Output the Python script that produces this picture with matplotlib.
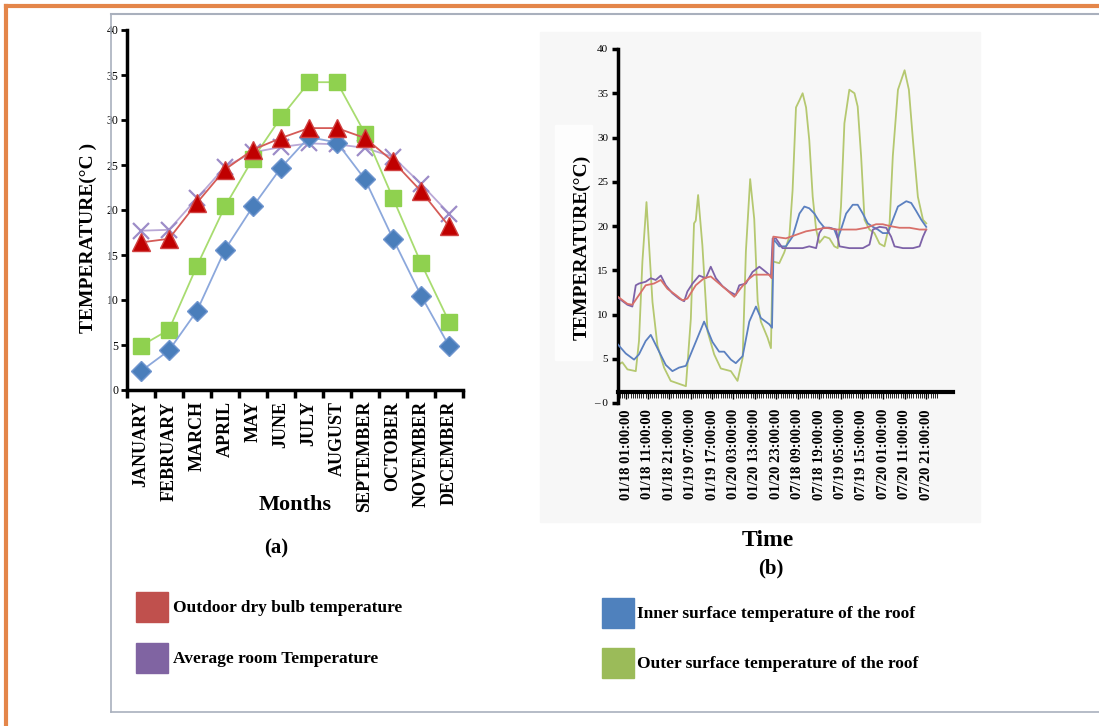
import matplotlib
matplotlib.use("Agg")
import matplotlib.pyplot as plt
from matplotlib.patches import Rectangle
from matplotlib.lines import Line2D

plt.rcParams['font.family'] = ['Liberation Serif', 'DejaVu Serif']

# ---- (a) monthly data ----
months = ['JANUARY', 'FEBRUARY', 'MARCH', 'APRIL', 'MAY', 'JUNE', 'JULY',
          'AUGUST', 'SEPTEMBER', 'OCTOBER', 'NOVEMBER', 'DECEMBER']
inner_month = [2.1, 4.4, 8.8, 15.6, 20.4, 24.7, 28.1, 27.5, 23.4, 16.8, 10.5, 4.9]
outer_month = [4.9, 6.7, 13.8, 20.4, 25.7, 30.3, 34.2, 34.2, 28.5, 21.3, 14.1, 7.6]
outdoor_month = [16.4, 16.8, 20.8, 24.5, 26.7, 28.0, 29.1, 29.1, 28.0, 25.4, 22.1, 18.2]
room_month = [17.7, 17.8, 21.3, 24.8, 26.4, 27.0, 27.4, 27.3, 26.9, 25.9, 22.9, 19.6]

# ---- (b) hourly data (hours counted from 01/18 01:00, July block follows January) ----
time_labels = ['01/18 01:00:00', '01/18 11:00:00', '01/18 21:00:00', '01/19 07:00:00',
               '01/19 17:00:00', '01/20 03:00:00', '01/20 13:00:00', '01/20 23:00:00',
               '07/18 09:00:00', '07/18 19:00:00', '07/19 05:00:00', '07/19 15:00:00',
               '07/20 01:00:00', '07/20 11:00:00', '07/20 21:00:00']

outer_t = [-3.9, -1.9, 0.5, 4.4, 5.9, 7.5, 9.4, 12.2, 14.5, 17.6, 20.7, 25.4, 27.8, 30.1,
           31.6, 32.4, 33.5, 35.5, 37.9, 41.0, 44.1, 48.8, 51.9, 54.3, 55.8, 57.8, 59.7,
           61.3, 62.8, 65.9, 67.5, 68.3, 71.4, 73.7, 76.1, 77.6, 79.2, 80.8, 82.3, 83.9,
           85.4, 87.0, 88.6, 90.1, 92.5, 94.8, 97.1, 98.7, 100.2, 101.8, 104.1, 106.5,
           108.0, 109.6, 111.2, 113.5, 115.8, 118.2, 120.5, 122.9, 124.4, 126.8, 129.9,
           131.9, 133.8, 136.1, 138.5, 140.0]
outer_v = [4.3, 4.6, 3.8, 3.6, 7.0, 16.0, 22.7, 11.4, 6.5, 4.0, 2.5, 2.1, 1.9, 9.5,
           20.3, 20.6, 23.5, 17.8, 8.1, 5.5, 3.9, 3.6, 2.5, 5.1, 17.1, 25.3, 20.8,
           11.5, 9.2, 7.4, 6.2, 16.0, 15.8, 17.0, 18.8, 24.0, 33.4, 34.2, 35.0, 33.4,
           29.7, 23.3, 19.6, 18.1, 18.8, 18.6, 17.7, 17.5, 22.2, 31.6, 35.4, 35.0,
           33.5, 27.9, 20.7, 19.6, 19.2, 18.0, 17.7, 20.3, 27.9, 35.4, 37.6,
           35.4, 29.7, 23.3, 20.7, 20.3]

inner_t = [-3.9, -0.3, 3.6, 5.9, 9.0, 11.4, 15.3, 18.4, 21.5, 24.6, 27.8, 32.4, 36.3,
           40.2, 43.3, 45.7, 48.8, 51.1, 54.3, 57.4, 60.5, 62.8, 66.7, 68.0, 68.8,
           71.4, 74.5, 77.6, 80.8, 83.1, 85.4, 87.8, 90.1, 92.5, 94.8, 97.1, 98.7,
           100.2, 102.6, 105.7, 108.0, 110.4, 112.7, 115.1, 117.4, 119.7, 122.1,
           124.4, 126.8, 130.7, 133.0, 135.3, 137.7, 140.0]
inner_v = [6.6, 5.6, 4.9, 5.5, 7.0, 7.7, 5.8, 4.3, 3.6, 4.0, 4.2, 6.9, 9.2,
           6.9, 5.8, 5.8, 4.9, 4.5, 5.3, 9.2, 10.9, 9.6, 8.9, 8.5, 18.5,
           17.7, 17.7, 18.8, 21.4, 22.2, 22.0, 21.4, 20.5, 19.8, 19.8, 19.6, 18.6,
           19.6, 21.4, 22.4, 22.4, 21.4, 20.3, 19.9, 19.6, 19.2, 19.2,
           20.7, 22.2, 22.8, 22.6, 21.7, 20.7, 19.9]

room_t = [-3.9, 0.5, 2.8, 4.4, 5.9, 9.0, 11.4, 13.7, 16.1, 18.4, 21.5, 24.6, 27.0,
          28.5, 30.9, 34.0, 37.1, 39.4, 41.8, 44.9, 48.0, 51.1, 52.7, 55.8, 58.9,
          62.1, 65.2, 67.5, 68.3, 69.8, 72.9, 82.3, 85.4, 88.6, 90.1, 91.7, 94.8,
          97.9, 99.5, 104.1, 110.4, 113.5, 115.1, 118.2, 121.3, 123.6, 125.2,
          129.1, 133.8, 136.9, 138.5, 140.0]
room_v = [11.9, 11.1, 10.9, 13.3, 13.5, 13.7, 14.1, 13.9, 14.4, 13.3, 12.4, 11.8, 11.5,
          12.6, 13.5, 14.4, 14.1, 15.4, 14.1, 13.2, 12.6, 12.2, 13.3, 13.5, 14.8,
          15.4, 14.8, 14.3, 18.6, 18.6, 17.5, 17.5, 17.7, 17.5, 19.2, 19.8, 19.8,
          19.6, 17.7, 17.5, 17.5, 17.9, 19.6, 19.9, 19.8, 18.8, 17.7,
          17.5, 17.5, 17.7, 18.8, 19.6]

outdoor_t = [-3.9, 0.5, 2.8, 5.9, 9.0, 12.9, 16.1, 19.2, 23.1, 26.2, 28.5, 32.4, 36.3,
             39.4, 43.3, 47.2, 50.4, 53.5, 56.6, 59.7, 66.7, 67.8, 68.6, 74.5, 79.2,
             83.9, 88.6, 93.2, 97.9, 107.3, 111.9, 116.6, 119.7, 122.9, 127.5,
             132.2, 136.9, 140.0]
outdoor_v = [12.0, 11.2, 11.1, 12.2, 13.3, 13.5, 13.9, 12.9, 12.2, 11.6, 11.8, 13.3, 14.1,
             14.3, 13.5, 12.7, 12.0, 13.0, 13.9, 14.5, 14.5, 14.1, 18.8, 18.6, 19.0,
             19.4, 19.6, 19.8, 19.6, 19.6, 19.8, 20.2, 20.2, 20.0, 19.8,
             19.8, 19.6, 19.6]

W, H = 1099, 726


def fx(px):
    return px / W


def fy(py):
    return 1 - py / H


fig = plt.figure(figsize=(10.99, 7.26), dpi=100)

# frames
fig.add_artist(Line2D([fx(6), 1], [fy(6), fy(6)], color='#e4864a', lw=3, transform=fig.transFigure))
fig.add_artist(Line2D([fx(6), fx(6)], [fy(6), 0], color='#e4864a', lw=3, transform=fig.transFigure))
fig.add_artist(Line2D([fx(111), 1], [fy(14), fy(14)], color='#a9b0bd', lw=1.5, transform=fig.transFigure))
fig.add_artist(Line2D([fx(111), fx(111)], [fy(14), fy(712)], color='#a9b0bd', lw=1.2, transform=fig.transFigure))
fig.add_artist(Line2D([fx(111), 1], [fy(712), fy(712)], color='#a9b0bd', lw=1.2, transform=fig.transFigure))

# grey panel behind (b)
fig.add_artist(Rectangle((fx(540), fy(522)), (980 - 540) / W, (522 - 32) / H,
                         transform=fig.transFigure, color='#f7f7f7', zorder=-2))
fig.add_artist(Rectangle((fx(555), fy(360)), (592 - 555) / W, (360 - 125) / H,
                         transform=fig.transFigure, color='#fdfdfd', zorder=-1))

# ---------- (a) ----------
ax1 = fig.add_axes([fx(127), fy(390), (463 - 127) / W, (390 - 30) / H])
x = list(range(len(months)))
ax1.plot(x, room_month, color='#b9a8d6', lw=1.3, marker='x', ms=11, mew=1.6,
         mec='#9d8cc8', zorder=2)
ax1.plot(x, outer_month, color='#a8dc70', lw=1.3, marker='s', ms=12,
         mfc='#8fd14f', mec='#8fd14f', zorder=3)
ax1.plot(x, inner_month, color='#8ca8dc', lw=1.3, marker='D', ms=10,
         mfc='#4a7ebb', mec='#6f95cf', zorder=4)
ax1.plot(x, outdoor_month, color='#d55b57', lw=1.3, marker='^', ms=13,
         mfc='#c00000', mec='#d04040', zorder=5)
ax1.set_xlim(-0.5, 11.5)
ax1.set_ylim(0, 40)
ax1.spines['top'].set_visible(False)
ax1.spines['right'].set_visible(False)
ax1.spines['left'].set_linewidth(2.5)
ax1.spines['bottom'].set_linewidth(2.5)
ax1.set_yticks(range(0, 41, 5))
ax1.tick_params(axis='y', length=4, width=2, labelsize=8.5, pad=2)
ax1.set_xticks(x)
ax1.set_xticklabels(months, rotation=90, fontsize=13, fontweight='bold')
ax1.set_xticks([i - 0.5 for i in range(13)], minor=True)
ax1.tick_params(axis='x', which='major', length=0, pad=8)
ax1.tick_params(axis='x', which='minor', length=6, width=2.5)
ax1.set_facecolor('none')

fig.text(fx(88), fy(238), 'TEMPERATURE(°C )', rotation=90, ha='center', va='center',
         fontsize=14, fontweight='bold')
fig.text(fx(295), fy(505), 'Months', ha='center', va='center', fontsize=16, fontweight='bold')
fig.text(fx(276), fy(548), '(a)', ha='center', va='center', fontsize=15, fontweight='bold')

# ---------- (b) ----------
ax2 = fig.add_axes([fx(618), fy(403), (953 - 618) / W, (403 - 49) / H])
ax2.plot(outer_t, outer_v, color='#b5c870', lw=1.3, zorder=2)
ax2.plot(inner_t, inner_v, color='#5b80c0', lw=1.3, zorder=3)
ax2.plot(room_t, room_v, color='#7d62a8', lw=1.3, zorder=4)
ax2.plot(outdoor_t, outdoor_v, color='#d8706a', lw=1.3, zorder=5)
ax2.set_xlim(-3.9, 152.5)
ax2.set_ylim(0, 40)
ax2.set_facecolor('none')
ax2.spines['top'].set_visible(False)
ax2.spines['right'].set_visible(False)
ax2.spines['left'].set_linewidth(2.5)
ax2.spines['bottom'].set_linewidth(3)
ax2.spines['bottom'].set_position(('data', 1.2))
ax2.set_yticks(range(0, 41, 5))
ax2.set_yticklabels(['– 0'] + [str(v) for v in range(5, 41, 5)])
ax2.tick_params(axis='y', length=4, width=2.5, labelsize=8, pad=3)
ax2.set_xticks([i * 10 for i in range(len(time_labels))])
ax2.set_xticklabels(time_labels, rotation=90, fontsize=10.5, fontweight='bold')
ax2.set_xticks(range(-3, 146), minor=True)
ax2.tick_params(axis='x', which='major', length=5, width=1, pad=7)
ax2.tick_params(axis='x', which='minor', length=4, width=0.6)

fig.text(fx(582), fy(247), 'TEMPERATURE(°C)', rotation=90, ha='center', va='center',
         fontsize=14, fontweight='bold')
fig.text(fx(768), fy(541), 'Time', ha='center', va='center', fontsize=17, fontweight='bold')
fig.text(fx(771), fy(568), '(b)', ha='center', va='center', fontsize=15, fontweight='bold')

# ---------- legend ----------
legend_items = [
    ('Outdoor dry bulb temperature', '#c0504d', 136, 592, 173),
    ('Average room Temperature', '#8064a2', 136, 643, 173),
    ('Inner surface temperature of the roof', '#4f81bd', 602, 598, 637),
    ('Outer surface temperature of the roof', '#9bbb59', 602, 648, 637),
]
for label, col, px, py, tx in legend_items:
    fig.add_artist(Rectangle((fx(px), fy(py + 30)), 32 / W, 30 / H,
                             transform=fig.transFigure, color=col))
    fig.text(fx(tx), fy(py + 16), label, ha='left', va='center', fontsize=12.5,
             fontweight='bold')

plt.savefig('out.png', dpi=100)
